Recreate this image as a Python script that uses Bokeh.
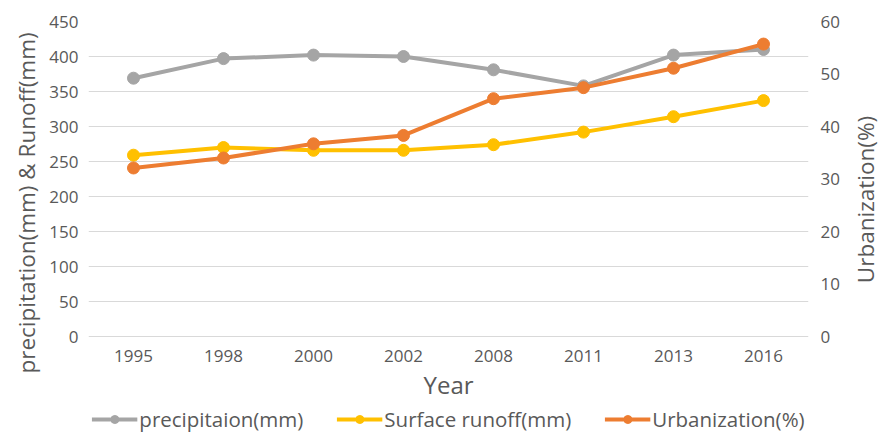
import math
from bokeh.plotting import figure
from bokeh.layouts import row
from bokeh.core.properties import value
from bokeh.models import (Range1d, LinearAxis, FixedTicker, Legend, LegendItem, FactorRange, Title, Label)
from bokeh.embed import file_html
from bokeh.resources import INLINE

years = ["1995", "1998", "2000", "2002", "2008", "2011", "2013", "2016"]
precipitation = [369, 397, 402, 400, 381, 358, 402, 410]
runoff = [259, 270, 266, 266, 274, 292, 314, 337]
urbanization = [32.1, 34.0, 36.7, 38.3, 45.3, 47.4, 51.1, 55.7]
left_ticks = [0, 50, 100, 150, 200, 250, 300, 350, 400, 450]
right_ticks = [0, 10, 20, 30, 40, 50, 60]

FONT = "Open Sans"
TXT = "#595959"
GRAY, YELLOW, ORANGE = "#A5A5A5", "#FFC000", "#ED7D31"

# plotting band is 315 px tall for 0..450 / 0..60; the frame is extended 97 px
# below the zero line so the category labels, axis title and legend sit inside it
PLOT_H, EXTRA = 315, 97
LMAX, RMAX = 450, 60
px_l = LMAX / PLOT_H   # left-axis units per pixel
px_r = RMAX / PLOT_H   # right-axis units per pixel

p = figure(frame_width=720, frame_height=PLOT_H + EXTRA, x_range=FactorRange(*years),
           y_range=Range1d(-EXTRA * px_l, LMAX), x_axis_location=None,
           output_backend="svg", toolbar_location=None,
           min_border_left=88, min_border_right=37, min_border_top=21, min_border_bottom=0)
p.extra_y_ranges = {"u": Range1d(-EXTRA * px_r, RMAX)}
p.outline_line_color = None
p.xgrid.grid_line_color = None
p.ygrid.grid_line_color = "#D9D9D9"
p.ygrid.grid_line_width = 1

ya = p.yaxis[0]
ya.ticker = FixedTicker(ticks=left_ticks)
ra = LinearAxis(y_range_name="u", ticker=FixedTicker(ticks=right_ticks))
p.add_layout(ra, "right")

for ax in [ya, ra]:
    ax.axis_line_color = None
    ax.major_tick_line_color = None
    ax.minor_tick_line_color = None
    ax.major_tick_out = 0
    ax.minor_tick_out = 0
    ax.major_label_text_font = FONT
    ax.major_label_text_font_size = "17px"
    ax.major_label_text_color = TXT
ya.major_label_standoff = 10
ra.major_label_standoff = 12

left_title = Title(text="precipitation(mm) & Runoff(mm)", align="left", offset=60, standoff=10,
                   text_font=FONT, text_font_size="22.5px", text_font_style="normal", text_color=TXT)
p.add_layout(left_title, "left")

# category labels and the x-axis title, placed through the plot's own scales
p.text(x=years, y=[-19 * px_l] * len(years), text=years, text_align="center", text_baseline="middle",
       text_font=value(FONT), text_font_size="17px", text_color=TXT)
p.add_layout(Label(x=len(years) / 2, y=-48 * px_l, text="Year", text_align="center",
                   text_baseline="middle", text_font=FONT, text_font_size="24px", text_color=TXT))

l1 = p.line(years, precipitation, line_color=GRAY, line_width=4)
c1 = p.scatter(years, precipitation, size=12, fill_color=GRAY, line_color=GRAY)
l2 = p.line(years, runoff, line_color=YELLOW, line_width=4)
c2 = p.scatter(years, runoff, size=12, fill_color=YELLOW, line_color=YELLOW)
l3 = p.line(years, urbanization, line_color=ORANGE, line_width=4, y_range_name="u")
c3 = p.scatter(years, urbanization, size=12, fill_color=ORANGE, line_color=ORANGE, y_range_name="u")

legend = Legend(items=[
    LegendItem(label="precipitaion(mm)", renderers=[l1, c1]),
    LegendItem(label="Surface runoff(mm)", renderers=[l2, c2]),
    LegendItem(label="Urbanization(%)", renderers=[l3, c3]),
], orientation="horizontal", location="bottom_center")
legend.label_text_font = FONT
legend.label_text_font_size = "20.5px"
legend.label_text_color = TXT
legend.glyph_width = 46
legend.glyph_height = 20
legend.label_height = 20
legend.label_standoff = 2
legend.spacing = 33
legend.padding = 0
legend.margin = 0
legend.border_line_color = None
legend.background_fill_alpha = 0
p.add_layout(legend, "center")

# narrow strip carrying the right-hand axis title
q = figure(frame_width=35, frame_height=400, x_range=Range1d(0, 35), y_range=Range1d(0, 400),
           output_backend="svg", toolbar_location=None, x_axis_location=None, y_axis_location=None,
           min_border=0)
q.outline_line_color = None
q.grid.visible = False
q.add_layout(Label(x=20, y=400 - 178, text="Urbanization(%)", angle=math.pi / 2, text_align="center",
                   text_baseline="middle", text_font=FONT, text_font_size="22.5px", text_color=TXT))

layout = row(p, q)
open("out.html", "w").write(file_html(layout, INLINE))
